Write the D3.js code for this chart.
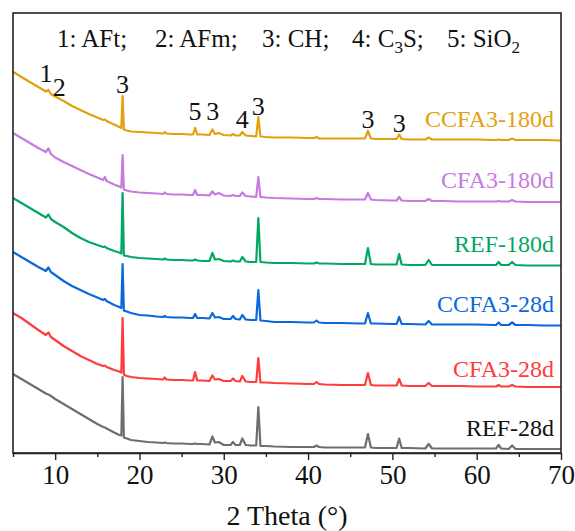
<!DOCTYPE html>
<html>
<head>
<meta charset="utf-8">
<script src="https://cdn.jsdelivr.net/npm/d3@7"></script>
<style>
  html, body { margin: 0; padding: 0; background: #fff; }
  svg { display: block; }
  text { font-family: "Liberation Serif", "Times New Roman", serif; }
</style>
</head>
<body>
<svg id="chart" width="575" height="531"></svg>
<script>
// 2 Theta grid (degrees)
const theta = [5,6,7,8,8.9,9.2,9.5,10,11,12,13,14,15,15.7,15.9,16.1,17,17.6,17.85,18.0,18.15,18.5,19,20,21,22,22.8,23.0,23.2,24,25,26,26.35,26.6,26.85,27.5,28.3,28.65,28.95,29.4,30,30.8,31.1,31.4,31.9,32.2,32.6,33.2,33.85,34.1,34.35,35,36,38,40,40.7,41.0,41.3,42,44,46,46.75,47.1,47.45,48,50,50.5,50.8,51.1,52,53.9,54.3,54.7,56,58,60,62,62.3,62.6,62.9,63.8,64.2,64.6,66,68,70];

// Stacked intensities (a.u.)
const ccfa3_180d = [381.3,376,371,366,361.5,363,359,356.5,352,347,343,339,335.5,333,333.5,332,328.5,326,325,357,323.5,322.5,321.5,321,320.5,320,319.5,321,319.5,319,319,318.5,318.5,325,318.5,318.5,318,323.5,319,320,318,317.5,319,317.5,317.5,321,317.5,317,316.5,336,316.5,316,315.5,315.5,315,315,316,314.5,314.5,314.5,314.5,314.5,322,314.5,314,314,314,318.5,314,313.5,313.5,315.5,313.5,313.5,313.5,313.5,313,313,313.5,313,313,314.5,313,313,313,312.5];
const cfa3_180d = [320,315,310,305,301,304.5,299,295.5,291,287,283,279,275.5,273,276,272,268.5,266.5,265.5,298,263.5,262.5,261.5,260.5,260,259.5,259,260.5,259,258.5,258.5,258,258,263,258,258,257.5,261.5,258.5,260,257.5,257,258,257,257,260.5,257,256.5,256,276,256,255.5,255,254.5,254,254,255,254,254,253.5,253.5,253.5,260,253.5,253,252.5,252.5,256,252.5,252,252,254,252,252,251.5,251.5,251.5,251.5,252,251.5,251.5,253,251.5,251,251,251];
const ref_180d = [255,250,245,240,235.5,238.5,234,231,226,220,215,211,208,206,206.5,205,202,200.5,199.5,260,197.5,197,196,195,194.5,194,193.5,194.5,193.5,193,193,192.5,192.5,193.5,192.5,192,192,200,193.5,194,192,191.5,192.5,191.5,191.5,196,191.5,191,191,235,191,190.5,190,190,189.5,189.5,190.5,189.5,189.5,189,189,189,205,189,188.5,188.5,188.5,199,188.5,188,188,193,188,188,188,188,188,188,191,188,188,191,188,187.5,187.5,187.5];
const ccfa3_28d = [201,196,191,186,182,185.5,181,178,172,167,163,159,155.5,153,154,152,148,146,145,189,142.5,141.5,140,138,137.5,136.5,136,137,136,135.5,135.5,135,135,139,135,135,134.5,140,135.5,136,134,134,137,134,133.5,138,133.5,133,133,163,132.5,132,131,131,130.5,130.5,132.5,130.5,130,130,129.5,129.5,140,129.5,129.5,129,129,136,129,129,128.5,132,128.5,128.5,128.5,128.5,128,128,130.5,128,128,130.5,128,128,127.5,127.5];
const cfa3_28d = [140,135,129,123,118,120.5,116,113,107,102,97,93,89,87,87.5,86,83,81.5,80.5,135,78.5,77,76,75,74.5,74,73.5,75.5,73.5,73,73,72.5,72.5,81,72.5,72.5,72,77.5,73.5,74,72,72,74.5,72,71.5,77,71.5,71,71,95,70.5,70.5,70,69.5,69,69,71,69,68.5,68,68,68,80,68,67.5,67.5,67.5,74,67.5,67,67,70,67,67,67,66.5,66.5,66.5,68,66.5,66.5,68,66.5,66,66,66];
const ref_28d = [79,74,69,64,59.5,58.5,57,54,49,44,39,34,29,26,25.5,24.5,20.5,18,17.5,76,15.5,14.5,13,12,11,10.5,10,10.5,10,9.5,9.5,9,9,9.5,9,9,8.5,16.5,10.5,11,8,8,11,8,8,14.5,8,7.5,7.5,46,7,7,6.5,6,6,6,7.5,6,5.5,5.5,5.5,5.5,19,5.5,5,5,5,14.5,5,5,4.5,9,4.5,4.5,4.5,4.5,4.5,4.5,8,4.5,4,7.5,4,4,4,4];

const seriesNames = ["CCFA3-180d","CFA3-180d","REF-180d","CCFA3-28d","CFA3-28d","REF-28d"];
const seriesValues = [ccfa3_180d, cfa3_180d, ref_180d, ccfa3_28d, cfa3_28d, ref_28d];
const seriesColors = ["#E2A00C","#C77ADF","#00A862","#0A68DC","#FF3B3B","#6E6E6E"];
const labelColors  = ["#E2A00C","#C77ADF","#00A862","#0A68DC","#FF3B3B","#111111"];
// label anchor intensity (a.u.) for each series name
const labelLevels = [326, 265, 201, 141, 76, 17];

// Phase markers on the top pattern
const peakLabels = ["1","2","3","5","3","4","3","3","3"];
const peakTheta  = [8.9,10.5,18.0,26.6,28.7,32.2,34.1,47.1,50.8];
const peakLevel  = [371,357,360,333,333,325,338,325,321];

const xTicks = [10,20,30,40,50,60,70];
const xMinorTicks = [5,15,25,35,45,55,65];

const svg = d3.select("#chart");
const mLeft = 13, mRight = 561, mTop = 13, mBottom = 453;

const x = d3.scaleLinear().domain([5,70]).range([mLeft,mRight]);
const y = d3.scaleLinear().domain([0,440]).range([mBottom,mTop]);

// lines
const line = d3.line().x(d => x(d[0])).y(d => y(d[1])).curve(d3.curveLinear);
seriesValues.forEach((vals, i) => {
  const pts = theta.map((t, j) => [t, vals[j]]);
  svg.append("path")
    .datum(pts)
    .attr("d", line)
    .attr("fill", "none")
    .attr("stroke", seriesColors[i])
    .attr("stroke-width", 2.2)
    .attr("stroke-linejoin", "round");
});

// frame
svg.append("rect")
  .attr("x", mLeft).attr("y", mTop)
  .attr("width", mRight-mLeft).attr("height", mBottom-mTop)
  .attr("fill", "none").attr("stroke", "#222").attr("stroke-width", 1.6);

// axis
const axisMajor = d3.axisBottom(x).tickValues(xTicks).tickSize(7).tickSizeOuter(0).tickPadding(5).tickFormat(d3.format("d"));
const gx = svg.append("g").attr("transform", `translate(0,${mBottom})`).call(axisMajor);
gx.select(".domain").attr("stroke", "#222").attr("stroke-width", 1.6);
gx.selectAll(".tick line").attr("stroke", "#222").attr("stroke-width", 1.4);
gx.selectAll(".tick text").attr("font-family", "Liberation Serif").attr("font-size", 27).attr("fill", "#111");
const axisMinor = d3.axisBottom(x).tickValues(xMinorTicks).tickSize(4).tickSizeOuter(0).tickFormat("");
const gm = svg.append("g").attr("transform", `translate(0,${mBottom})`).call(axisMinor);
gm.select(".domain").remove();
gm.selectAll(".tick line").attr("stroke", "#222").attr("stroke-width", 1.4);

// axis title
svg.append("text")
  .attr("x", (mLeft+mRight)/2).attr("y", 525)
  .attr("text-anchor", "middle")
  .attr("font-size", 28).attr("fill", "#111")
  .text("2 Theta (°)");

// series labels
seriesNames.forEach((n, i) => {
  svg.append("text")
    .attr("x", 554).attr("y", y(labelLevels[i]))
    .attr("text-anchor", "end")
    .attr("font-size", 24).attr("fill", labelColors[i])
    .text(n);
});

// peak annotations
peakLabels.forEach((p, i) => {
  svg.append("text")
    .attr("x", x(peakTheta[i])).attr("y", y(peakLevel[i]))
    .attr("text-anchor", "middle")
    .attr("font-size", 26).attr("fill", "#111")
    .text(p);
});

// legend of phases: [text, isSubscript]
const legend = [
  {x: 57,  parts: [["1: AFt;", false]]},
  {x: 155, parts: [["2: AFm;", false]]},
  {x: 262, parts: [["3: CH;", false]]},
  {x: 352, parts: [["4: C", false], ["3", true], ["S;", false]]},
  {x: 447, parts: [["5: SiO", false], ["2", true]]}
];
legend.forEach(l => {
  const t = svg.append("text").attr("x", l.x).attr("y", 47).attr("font-size", 25).attr("fill", "#111");
  let shifted = false;
  l.parts.forEach(([s, sub]) => {
    const ts = t.append("tspan").text(s);
    if (sub) { ts.attr("font-size", 17).attr("dy", 6); shifted = true; }
    else if (shifted) { ts.attr("dy", -6); shifted = false; }
  });
});
</script>
</body>
</html>
